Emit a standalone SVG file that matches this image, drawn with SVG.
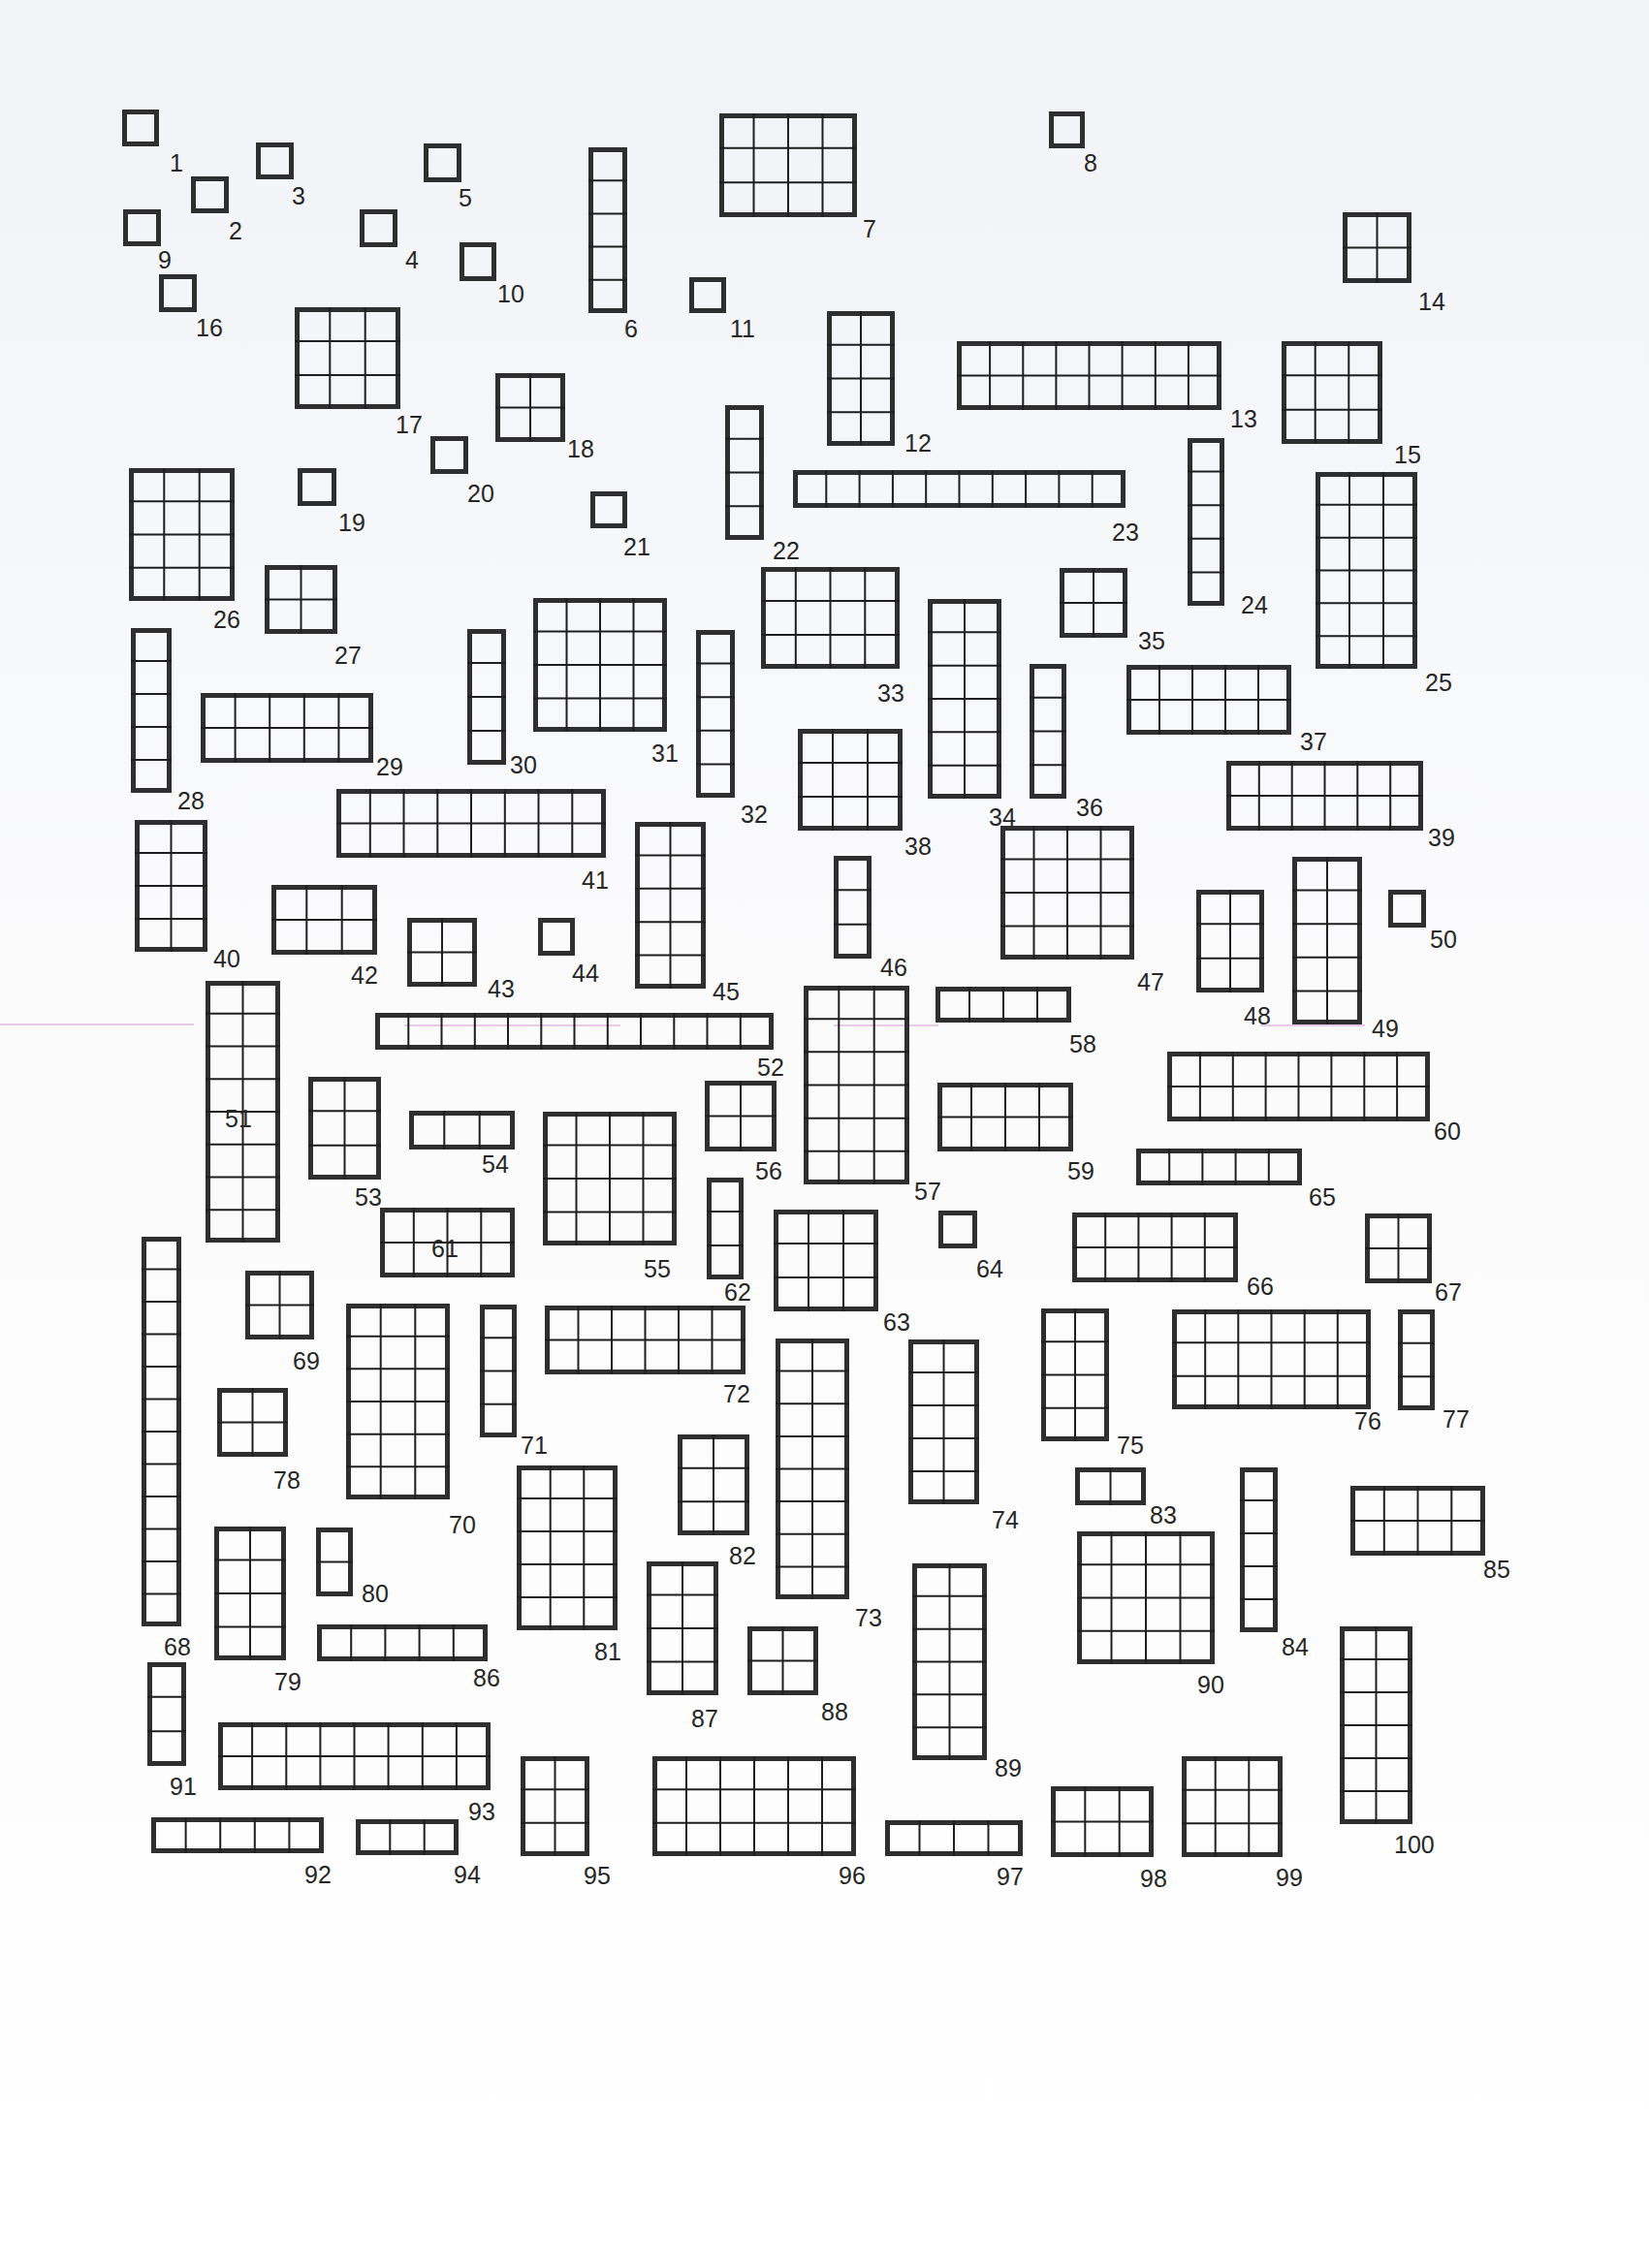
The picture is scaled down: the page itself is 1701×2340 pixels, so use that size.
<svg xmlns="http://www.w3.org/2000/svg" width="1701" height="2340" viewBox="0 0 1701 2340">
<defs>
<linearGradient id="paper" x1="0" y1="0" x2="0" y2="1">
<stop offset="0" stop-color="#f1f3f7"/>
<stop offset="0.45" stop-color="#fbfbfc"/>
<stop offset="1" stop-color="#ffffff"/>
</linearGradient>
<style>
.b{fill:none;stroke:#2f2f2f;stroke-width:5}
.g{fill:none;stroke:#1f1f1f;stroke-width:2}
text{font-family:"Liberation Sans",Arial,sans-serif;font-size:25px;fill:#262626}
.scan{stroke:#d49ad6;stroke-width:1.2;fill:none}
</style>
</defs>
<rect x="0" y="0" width="1701" height="2340" fill="url(#paper)"/>
<g id="scan-marks">
<path class="scan" d="M0 1057H200M417 1058H640M860 1058H968M1300 1058H1408"/>
</g>
<g id="connectors"></g>
<g id="nodes">
<g id="n1"><rect class="b" x="128.5" y="115.5" width="33" height="33"/><text x="175" y="177">1</text></g>
<g id="n2"><rect class="b" x="199.5" y="184.5" width="34" height="33"/><text x="236" y="247">2</text></g>
<g id="n3"><rect class="b" x="266.5" y="149.5" width="34" height="33"/><text x="301" y="211">3</text></g>
<g id="n4"><rect class="b" x="373.5" y="218.5" width="34" height="34"/><text x="418" y="277">4</text></g>
<g id="n5"><rect class="b" x="439.5" y="150.5" width="34" height="35"/><text x="473" y="213">5</text></g>
<g id="n6"><rect class="b" x="609.5" y="154.5" width="35" height="166"/><path class="g" d="M607 186.2h40M607 220.4h40M607 254.6h40M607 288.8h40"/><text x="644" y="348">6</text></g>
<g id="n7"><rect class="b" x="744.5" y="119.5" width="137" height="102"/><path class="g" d="M777.5 117v107M813 117v107M848.5 117v107M742 152.7h142M742 188.3h142"/><text x="890" y="245">7</text></g>
<g id="n8"><rect class="b" x="1084.5" y="117.5" width="32" height="33"/><text x="1118" y="177">8</text></g>
<g id="n9"><rect class="b" x="129.5" y="218.5" width="34" height="33"/><text x="163" y="277">9</text></g>
<g id="n10"><rect class="b" x="476.5" y="252.5" width="33" height="35"/><text x="513" y="312">10</text></g>
<g id="n11"><rect class="b" x="713.5" y="288.5" width="33" height="32"/><text x="753" y="348">11</text></g>
<g id="n12"><rect class="b" x="855.5" y="323.5" width="65" height="134"/><path class="g" d="M888 321v139M853 355.8h70M853 390.5h70M853 425.3h70"/><text x="933" y="466">12</text></g>
<g id="n13"><rect class="b" x="989.5" y="354.5" width="268" height="66"/><path class="g" d="M1021.1 352v71M1055.3 352v71M1089.4 352v71M1123.5 352v71M1157.6 352v71M1191.8 352v71M1225.9 352v71M987 387.5h273"/><text x="1269" y="441">13</text></g>
<g id="n14"><rect class="b" x="1387.5" y="221.5" width="66" height="68"/><path class="g" d="M1420.5 219v73M1385 255.5h71"/><text x="1463" y="320">14</text></g>
<g id="n15"><rect class="b" x="1324.5" y="354.5" width="99" height="101"/><path class="g" d="M1356.7 352v106M1391.3 352v106M1322 387.3h104M1322 422.7h104"/><text x="1438" y="478">15</text></g>
<g id="n16"><rect class="b" x="166.5" y="285.5" width="34" height="34"/><text x="202" y="347">16</text></g>
<g id="n17"><rect class="b" x="306.5" y="319.5" width="104" height="100"/><path class="g" d="M340.3 317v105M376.7 317v105M304 352h109M304 387h109"/><text x="408" y="447">17</text></g>
<g id="n18"><rect class="b" x="513.5" y="387.5" width="67" height="66"/><path class="g" d="M547 385v71M511 420.5h72"/><text x="585" y="472">18</text></g>
<g id="n19"><rect class="b" x="309.5" y="485.5" width="35" height="34"/><text x="349" y="548">19</text></g>
<g id="n20"><rect class="b" x="446.5" y="452.5" width="34" height="34"/><text x="482" y="518">20</text></g>
<g id="n21"><rect class="b" x="611.5" y="509.5" width="33" height="33"/><text x="643" y="573">21</text></g>
<g id="n22"><rect class="b" x="750.5" y="420.5" width="35" height="134"/><path class="g" d="M748 452.8h40M748 487.5h40M748 522.3h40"/><text x="797" y="577">22</text></g>
<g id="n23"><rect class="b" x="820.5" y="487.5" width="338" height="34"/><path class="g" d="M852.3 485v39M886.6 485v39M920.9 485v39M955.2 485v39M989.5 485v39M1023.8 485v39M1058.1 485v39M1092.4 485v39M1126.7 485v39"/><text x="1147" y="558">23</text></g>
<g id="n24"><rect class="b" x="1227.5" y="454.5" width="33" height="168"/><path class="g" d="M1225 486.6h38M1225 521.2h38M1225 555.8h38M1225 590.4h38"/><text x="1280" y="633">24</text></g>
<g id="n25"><rect class="b" x="1359.5" y="489.5" width="100" height="198"/><path class="g" d="M1392 487v203M1427 487v203M1357 520.8h105M1357 554.7h105M1357 588.5h105M1357 622.3h105M1357 656.2h105"/><text x="1470" y="713">25</text></g>
<g id="n26"><rect class="b" x="135.5" y="485.5" width="104" height="132"/><path class="g" d="M169.3 483v137M205.7 483v137M133 517.3h109M133 551.5h109M133 585.8h109"/><text x="220" y="648">26</text></g>
<g id="n27"><rect class="b" x="275.5" y="585.5" width="70" height="66"/><path class="g" d="M310.5 583v71M273 618.5h75"/><text x="345" y="685">27</text></g>
<g id="n28"><rect class="b" x="137.5" y="650.5" width="37" height="165"/><path class="g" d="M135 682h42M135 716h42M135 750h42M135 784h42"/><text x="183" y="835">28</text></g>
<g id="n29"><rect class="b" x="209.5" y="717.5" width="173" height="67"/><path class="g" d="M242.6 715v72M278.2 715v72M313.8 715v72M349.4 715v72M207 751h178"/><text x="388" y="800">29</text></g>
<g id="n30"><rect class="b" x="484.5" y="651.5" width="35" height="135"/><path class="g" d="M482 684h40M482 719h40M482 754h40"/><text x="526" y="798">30</text></g>
<g id="n31"><rect class="b" x="552.5" y="619.5" width="133" height="133"/><path class="g" d="M584.5 617v138M619 617v138M653.5 617v138M550 651.5h138M550 686h138M550 720.5h138"/><text x="672" y="786">31</text></g>
<g id="n32"><rect class="b" x="720.5" y="652.5" width="35" height="168"/><path class="g" d="M718 684.6h40M718 719.2h40M718 753.8h40M718 788.4h40"/><text x="764" y="849">32</text></g>
<g id="n33"><rect class="b" x="787.5" y="587.5" width="138" height="100"/><path class="g" d="M820.8 585v105M856.5 585v105M892.3 585v105M785 620h143M785 655h143"/><text x="905" y="724">33</text></g>
<g id="n34"><rect class="b" x="959.5" y="620.5" width="71" height="201"/><path class="g" d="M995 618v206M957 652.3h76M957 686.7h76M957 721h76M957 755.3h76M957 789.7h76"/><text x="1020" y="852">34</text></g>
<g id="n35"><rect class="b" x="1095.5" y="588.5" width="65" height="67"/><path class="g" d="M1128 586v72M1093 622h70"/><text x="1174" y="670">35</text></g>
<g id="n36"><rect class="b" x="1064.5" y="687.5" width="33" height="134"/><path class="g" d="M1062 719.8h38M1062 754.5h38M1062 789.3h38"/><text x="1110" y="842">36</text></g>
<g id="n37"><rect class="b" x="1164.5" y="688.5" width="165" height="67"/><path class="g" d="M1196 686v72M1230 686v72M1264 686v72M1298 686v72M1162 722h170"/><text x="1341" y="774">37</text></g>
<g id="n38"><rect class="b" x="825.5" y="754.5" width="103" height="100"/><path class="g" d="M859 752v105M895 752v105M823 787h108M823 822h108"/><text x="933" y="882">38</text></g>
<g id="n39"><rect class="b" x="1267.5" y="787.5" width="198" height="67"/><path class="g" d="M1298.8 785v72M1332.7 785v72M1366.5 785v72M1400.3 785v72M1434.2 785v72M1265 821h203"/><text x="1473" y="873">39</text></g>
<g id="n40"><rect class="b" x="141.5" y="848.5" width="70" height="131"/><path class="g" d="M176.5 846v136M139 880h75M139 914h75M139 948h75"/><text x="220" y="998">40</text></g>
<g id="n41"><rect class="b" x="349.5" y="816.5" width="273" height="66"/><path class="g" d="M381.8 814v71M416.5 814v71M451.3 814v71M486 814v71M520.8 814v71M555.5 814v71M590.3 814v71M347 849.5h278"/><text x="600" y="917">41</text></g>
<g id="n42"><rect class="b" x="282.5" y="915.5" width="104" height="67"/><path class="g" d="M316.3 913v72M352.7 913v72M280 949h109"/><text x="362" y="1015">42</text></g>
<g id="n43"><rect class="b" x="422.5" y="949.5" width="67" height="66"/><path class="g" d="M456 947v71M420 982.5h72"/><text x="503" y="1029">43</text></g>
<g id="n44"><rect class="b" x="557.5" y="949.5" width="33" height="34"/><text x="590" y="1013">44</text></g>
<g id="n45"><rect class="b" x="657.5" y="850.5" width="68" height="167"/><path class="g" d="M691.5 848v172M655 882.4h73M655 916.8h73M655 951.2h73M655 985.6h73"/><text x="735" y="1032">45</text></g>
<g id="n46"><rect class="b" x="862.5" y="885.5" width="34" height="101"/><path class="g" d="M860 918.3h39M860 953.7h39"/><text x="908" y="1007">46</text></g>
<g id="n47"><rect class="b" x="1034.5" y="854.5" width="133" height="133"/><path class="g" d="M1066.5 852v138M1101 852v138M1135.5 852v138M1032 886.5h138M1032 921h138M1032 955.5h138"/><text x="1173" y="1022">47</text></g>
<g id="n48"><rect class="b" x="1236.5" y="920.5" width="65" height="101"/><path class="g" d="M1269 918v106M1234 953.3h70M1234 988.7h70"/><text x="1283" y="1057">48</text></g>
<g id="n49"><rect class="b" x="1335.5" y="886.5" width="67" height="168"/><path class="g" d="M1369 884v173M1333 918.6h72M1333 953.2h72M1333 987.8h72M1333 1022.4h72"/><text x="1415" y="1070">49</text></g>
<g id="n50"><rect class="b" x="1434.5" y="920.5" width="34" height="34"/><text x="1475" y="978">50</text></g>
<g id="n51"><rect class="b" x="214.5" y="1014.5" width="72" height="265"/><path class="g" d="M250.5 1012v270M212 1045.8h77M212 1079.5h77M212 1113.3h77M212 1147h77M212 1180.8h77M212 1214.5h77M212 1248.3h77"/><text x="232" y="1163">51</text></g>
<g id="n52"><rect class="b" x="389.5" y="1047.5" width="406" height="33"/><path class="g" d="M421.3 1045v38M455.5 1045v38M489.8 1045v38M524 1045v38M558.3 1045v38M592.5 1045v38M626.8 1045v38M661 1045v38M695.3 1045v38M729.5 1045v38M763.8 1045v38"/><text x="781" y="1110">52</text></g>
<g id="n53"><rect class="b" x="320.5" y="1113.5" width="70" height="101"/><path class="g" d="M355.5 1111v106M318 1146.3h75M318 1181.7h75"/><text x="366" y="1244">53</text></g>
<g id="n54"><rect class="b" x="424.5" y="1148.5" width="104" height="35"/><path class="g" d="M458.3 1146v40M494.7 1146v40"/><text x="497" y="1210">54</text></g>
<g id="n55"><rect class="b" x="562.5" y="1149.5" width="133" height="133"/><path class="g" d="M594.5 1147v138M629 1147v138M663.5 1147v138M560 1181.5h138M560 1216h138M560 1250.5h138"/><text x="664" y="1318">55</text></g>
<g id="n56"><rect class="b" x="729.5" y="1117.5" width="69" height="68"/><path class="g" d="M764 1115v73M727 1151.5h74"/><text x="779" y="1217">56</text></g>
<g id="n57"><rect class="b" x="831.5" y="1019.5" width="104" height="200"/><path class="g" d="M865.3 1017v205M901.7 1017v205M829 1051.2h109M829 1085.3h109M829 1119.5h109M829 1153.7h109M829 1187.8h109"/><text x="943" y="1238">57</text></g>
<g id="n58"><rect class="b" x="967.5" y="1020.5" width="135" height="32"/><path class="g" d="M1000 1018v37M1035 1018v37M1070 1018v37"/><text x="1103" y="1086">58</text></g>
<g id="n59"><rect class="b" x="969.5" y="1119.5" width="135" height="66"/><path class="g" d="M1002 1117v71M1037 1117v71M1072 1117v71M967 1152.5h140"/><text x="1101" y="1217">59</text></g>
<g id="n60"><rect class="b" x="1206.5" y="1087.5" width="266" height="67"/><path class="g" d="M1237.9 1085v72M1271.8 1085v72M1305.6 1085v72M1339.5 1085v72M1373.4 1085v72M1407.3 1085v72M1441.1 1085v72M1204 1121h271"/><text x="1479" y="1176">60</text></g>
<g id="n61"><rect class="b" x="394.5" y="1248.5" width="134" height="67"/><path class="g" d="M426.8 1246v72M461.5 1246v72M496.3 1246v72M392 1282h139"/><text x="445" y="1297">61</text></g>
<g id="n62"><rect class="b" x="731.5" y="1217.5" width="33" height="100"/><path class="g" d="M729 1250h38M729 1285h38"/><text x="747" y="1342">62</text></g>
<g id="n63"><rect class="b" x="800.5" y="1250.5" width="103" height="100"/><path class="g" d="M834 1248v105M870 1248v105M798 1283h108M798 1318h108"/><text x="911" y="1373">63</text></g>
<g id="n64"><rect class="b" x="970.5" y="1251.5" width="35" height="34"/><text x="1007" y="1318">64</text></g>
<g id="n65"><rect class="b" x="1174.5" y="1187.5" width="166" height="33"/><path class="g" d="M1206.2 1185v38M1240.4 1185v38M1274.6 1185v38M1308.8 1185v38"/><text x="1350" y="1244">65</text></g>
<g id="n66"><rect class="b" x="1108.5" y="1253.5" width="166" height="67"/><path class="g" d="M1140.2 1251v72M1174.4 1251v72M1208.6 1251v72M1242.8 1251v72M1106 1287h171"/><text x="1286" y="1336">66</text></g>
<g id="n67"><rect class="b" x="1410.5" y="1254.5" width="64" height="67"/><path class="g" d="M1442.5 1252v72M1408 1288h69"/><text x="1480" y="1342">67</text></g>
<g id="n68"><rect class="b" x="148.5" y="1278.5" width="36" height="397"/><path class="g" d="M146 1309.5h41M146 1343h41M146 1376.5h41M146 1410h41M146 1443.5h41M146 1477h41M146 1510.5h41M146 1544h41M146 1577.5h41M146 1611h41M146 1644.5h41"/><text x="169" y="1708">68</text></g>
<g id="n69"><rect class="b" x="255.5" y="1313.5" width="66" height="66"/><path class="g" d="M288.5 1311v71M253 1346.5h71"/><text x="302" y="1413">69</text></g>
<g id="n70"><rect class="b" x="359.5" y="1347.5" width="102" height="197"/><path class="g" d="M392.7 1345v202M428.3 1345v202M357 1378.7h107M357 1412.3h107M357 1446h107M357 1479.7h107M357 1513.3h107"/><text x="463" y="1582">70</text></g>
<g id="n71"><rect class="b" x="497.5" y="1348.5" width="33" height="132"/><path class="g" d="M495 1380.3h38M495 1414.5h38M495 1448.8h38"/><text x="537" y="1500">71</text></g>
<g id="n72"><rect class="b" x="564.5" y="1349.5" width="202" height="66"/><path class="g" d="M596.5 1347v71M631 1347v71M665.5 1347v71M700 1347v71M734.5 1347v71M562 1382.5h207"/><text x="746" y="1447">72</text></g>
<g id="n73"><rect class="b" x="802.5" y="1383.5" width="71" height="264"/><path class="g" d="M838 1381v269M800 1414.6h76M800 1448.3h76M800 1481.9h76M800 1515.5h76M800 1549.1h76M800 1582.8h76M800 1616.4h76"/><text x="882" y="1678">73</text></g>
<g id="n74"><rect class="b" x="939.5" y="1384.5" width="68" height="165"/><path class="g" d="M973.5 1382v170M937 1416h73M937 1450h73M937 1484h73M937 1518h73"/><text x="1023" y="1577">74</text></g>
<g id="n75"><rect class="b" x="1076.5" y="1352.5" width="65" height="132"/><path class="g" d="M1109 1350v137M1074 1384.3h70M1074 1418.5h70M1074 1452.8h70"/><text x="1152" y="1500">75</text></g>
<g id="n76"><rect class="b" x="1211.5" y="1353.5" width="200" height="98"/><path class="g" d="M1243.2 1351v103M1277.3 1351v103M1311.5 1351v103M1345.7 1351v103M1379.8 1351v103M1209 1385.3h205M1209 1419.7h205"/><text x="1397" y="1475">76</text></g>
<g id="n77"><rect class="b" x="1444.5" y="1353.5" width="33" height="99"/><path class="g" d="M1442 1385.7h38M1442 1420.3h38"/><text x="1488" y="1473">77</text></g>
<g id="n78"><rect class="b" x="226.5" y="1434.5" width="68" height="66"/><path class="g" d="M260.5 1432v71M224 1467.5h73"/><text x="282" y="1536">78</text></g>
<g id="n79"><rect class="b" x="223.5" y="1577.5" width="69" height="133"/><path class="g" d="M258 1575v138M221 1609.5h74M221 1644h74M221 1678.5h74"/><text x="283" y="1744">79</text></g>
<g id="n80"><rect class="b" x="328.5" y="1578.5" width="33" height="66"/><path class="g" d="M326 1611.5h38"/><text x="373" y="1653">80</text></g>
<g id="n81"><rect class="b" x="535.5" y="1514.5" width="99" height="165"/><path class="g" d="M567.7 1512v170M602.3 1512v170M533 1546h104M533 1580h104M533 1614h104M533 1648h104"/><text x="613" y="1713">81</text></g>
<g id="n82"><rect class="b" x="701.5" y="1482.5" width="69" height="99"/><path class="g" d="M736 1480v104M699 1514.7h74M699 1549.3h74"/><text x="752" y="1614">82</text></g>
<g id="n83"><rect class="b" x="1111.5" y="1516.5" width="68" height="34"/><path class="g" d="M1145.5 1514v39"/><text x="1186" y="1572">83</text></g>
<g id="n84"><rect class="b" x="1281.5" y="1516.5" width="34" height="165"/><path class="g" d="M1279 1548h39M1279 1582h39M1279 1616h39M1279 1650h39"/><text x="1322" y="1708">84</text></g>
<g id="n85"><rect class="b" x="1395.5" y="1535.5" width="134" height="67"/><path class="g" d="M1427.8 1533v72M1462.5 1533v72M1497.3 1533v72M1393 1569h139"/><text x="1530" y="1628">85</text></g>
<g id="n86"><rect class="b" x="329.5" y="1678.5" width="171" height="33"/><path class="g" d="M362.2 1676v38M397.4 1676v38M432.6 1676v38M467.8 1676v38"/><text x="488" y="1740">86</text></g>
<g id="n87"><rect class="b" x="669.5" y="1613.5" width="69" height="133"/><path class="g" d="M704 1611v138M667 1645.5h74M667 1680h74M667 1714.5h74"/><text x="713" y="1782">87</text></g>
<g id="n88"><rect class="b" x="773.5" y="1680.5" width="68" height="66"/><path class="g" d="M807.5 1678v71M771 1713.5h73"/><text x="847" y="1775">88</text></g>
<g id="n89"><rect class="b" x="943.5" y="1615.5" width="72" height="198"/><path class="g" d="M979.5 1613v203M941 1646.8h77M941 1680.7h77M941 1714.5h77M941 1748.3h77M941 1782.2h77"/><text x="1026" y="1833">89</text></g>
<g id="n90"><rect class="b" x="1113.5" y="1582.5" width="137" height="132"/><path class="g" d="M1146.5 1580v137M1182 1580v137M1217.5 1580v137M1111 1614.3h142M1111 1648.5h142M1111 1682.8h142"/><text x="1235" y="1747">90</text></g>
<g id="n91"><rect class="b" x="154.5" y="1717.5" width="35" height="102"/><path class="g" d="M152 1750.7h40M152 1786.3h40"/><text x="175" y="1852">91</text></g>
<g id="n92"><rect class="b" x="158.5" y="1877.5" width="173" height="32"/><path class="g" d="M191.6 1875v37M227.2 1875v37M262.8 1875v37M298.4 1875v37"/><text x="314" y="1943">92</text></g>
<g id="n93"><rect class="b" x="227.5" y="1779.5" width="276" height="65"/><path class="g" d="M260.1 1777v70M295.3 1777v70M330.4 1777v70M365.5 1777v70M400.6 1777v70M435.8 1777v70M470.9 1777v70M225 1812h281"/><text x="483" y="1878">93</text></g>
<g id="n94"><rect class="b" x="369.5" y="1879.5" width="101" height="32"/><path class="g" d="M402.3 1877v37M437.7 1877v37"/><text x="468" y="1943">94</text></g>
<g id="n95"><rect class="b" x="539.5" y="1814.5" width="66" height="98"/><path class="g" d="M572.5 1812v103M537 1846.3h71M537 1880.7h71"/><text x="602" y="1944">95</text></g>
<g id="n96"><rect class="b" x="675.5" y="1814.5" width="205" height="98"/><path class="g" d="M708 1812v103M743 1812v103M778 1812v103M813 1812v103M848 1812v103M673 1846.3h210M673 1880.7h210"/><text x="865" y="1944">96</text></g>
<g id="n97"><rect class="b" x="915.5" y="1880.5" width="137" height="32"/><path class="g" d="M948.5 1878v37M984 1878v37M1019.5 1878v37"/><text x="1028" y="1945">97</text></g>
<g id="n98"><rect class="b" x="1086.5" y="1845.5" width="101" height="68"/><path class="g" d="M1119.3 1843v73M1154.7 1843v73M1084 1879.5h106"/><text x="1176" y="1947">98</text></g>
<g id="n99"><rect class="b" x="1221.5" y="1814.5" width="99" height="99"/><path class="g" d="M1253.7 1812v104M1288.3 1812v104M1219 1846.7h104M1219 1881.3h104"/><text x="1316" y="1946">99</text></g>
<g id="n100"><rect class="b" x="1384.5" y="1680.5" width="70" height="199"/><path class="g" d="M1419.5 1678v204M1382 1712h75M1382 1746h75M1382 1780h75M1382 1814h75M1382 1848h75"/><text x="1438" y="1912">100</text></g>
</g>
</svg>
